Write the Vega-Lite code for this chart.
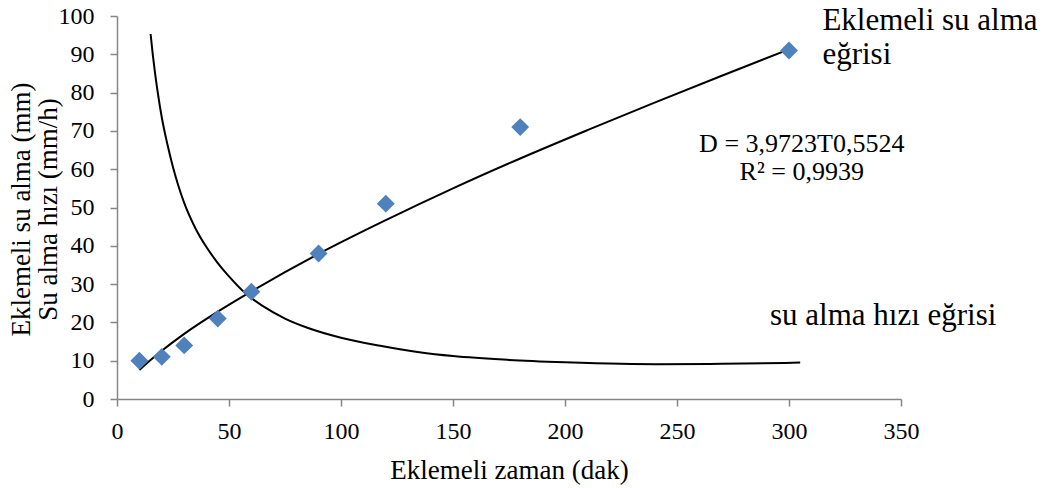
{
  "$schema": "https://vega.github.io/schema/vega-lite/v6.json",
  "width": 784,
  "height": 383,
  "autosize": {"type": "none"},
  "padding": {"left": 117, "top": 16, "right": 150, "bottom": 89},
  "background": "white",
  "config": {
    "view": {"stroke": null},
    "font": "Liberation Serif",
    "axis": {
      "grid": false,
      "domainColor": "#868686",
      "tickColor": "#868686",
      "domainWidth": 1.5,
      "tickWidth": 1.5,
      "tickSize": 7,
      "labelOverlap": false,
      "labelFlush": false,
      "labelFont": "Liberation Serif",
      "labelFontSize": 24,
      "labelColor": "#000000",
      "titleFont": "Liberation Serif",
      "titleFontSize": 27,
      "titleFontWeight": "normal",
      "titleColor": "#000000"
    }
  },
  "datasets": {
    "points": [
      {"t": 10, "v": 10},
      {"t": 20, "v": 11},
      {"t": 30, "v": 14},
      {"t": 45, "v": 21},
      {"t": 60, "v": 28},
      {"t": 90, "v": 38},
      {"t": 120, "v": 51},
      {"t": 180, "v": 71},
      {"t": 300, "v": 91}
    ],
    "trend": [
      {"t": 10, "v": 7.6},
      {"t": 15, "v": 10.2},
      {"t": 20, "v": 12.6},
      {"t": 30, "v": 17.0},
      {"t": 45, "v": 22.8},
      {"t": 60, "v": 28.1},
      {"t": 90, "v": 37.9},
      {"t": 120, "v": 46.7},
      {"t": 150, "v": 55.0},
      {"t": 180, "v": 62.8},
      {"t": 210, "v": 70.2},
      {"t": 240, "v": 77.4},
      {"t": 270, "v": 84.4},
      {"t": 300, "v": 91.3}
    ],
    "rate": [
      {"t": 15, "v": 95.3},
      {"t": 16, "v": 89.8},
      {"t": 17, "v": 85.0},
      {"t": 18, "v": 80.8},
      {"t": 20, "v": 73.5},
      {"t": 22.5, "v": 66.5},
      {"t": 25, "v": 60.5},
      {"t": 27.5, "v": 55.5},
      {"t": 30, "v": 51.2},
      {"t": 35, "v": 44.6},
      {"t": 40, "v": 39.6},
      {"t": 45, "v": 35.5},
      {"t": 50, "v": 32.0},
      {"t": 57.3, "v": 27.6},
      {"t": 65, "v": 24.3},
      {"t": 75, "v": 21.0},
      {"t": 85, "v": 18.6},
      {"t": 100, "v": 16.0},
      {"t": 117.5, "v": 13.9},
      {"t": 135, "v": 12.2},
      {"t": 150, "v": 11.2},
      {"t": 175, "v": 10.2},
      {"t": 200, "v": 9.6},
      {"t": 225, "v": 9.2},
      {"t": 241, "v": 9.1},
      {"t": 270, "v": 9.2},
      {"t": 305, "v": 9.5}
    ],
    "one": [{}]
  },
  "layer": [
    {
      "data": {"name": "rate"},
      "mark": {"type": "line", "color": "#000000", "strokeWidth": 2, "interpolate": "monotone"},
      "encoding": {
        "x": {
          "field": "t", "type": "quantitative",
          "scale": {"domain": [0, 350], "nice": false},
          "axis": {"values": [0, 50, 100, 150, 200, 250, 300, 350], "labelOverlap": false, "labelFlush": false, "labelPadding": 13, "title": "Eklemeli zaman (dak)", "titleY": 79, "titleBaseline": "alphabetic"}
        },
        "y": {
          "field": "v", "type": "quantitative",
          "scale": {"domain": [0, 100], "nice": false},
          "axis": {"values": [0, 10, 20, 30, 40, 50, 60, 70, 80, 90, 100], "tickCount": 11, "labelOverlap": false, "labelFlush": false, "labelPadding": 16, "title": ["Eklemeli su alma (mm)", "Su alma hızı (mm/h)"], "titleX": -88, "titleY": 193, "titleBaseline": "alphabetic", "titleLineHeight": 27}
        }
      }
    },
    {
      "data": {"name": "trend"},
      "mark": {"type": "line", "color": "#000000", "strokeWidth": 2, "interpolate": "monotone"},
      "encoding": {
        "x": {"field": "t", "type": "quantitative"},
        "y": {"field": "v", "type": "quantitative"}
      }
    },
    {
      "data": {"name": "points"},
      "mark": {"type": "point", "shape": "diamond", "filled": true, "color": "#4F81BD", "size": 320, "opacity": 1},
      "encoding": {
        "x": {"field": "t", "type": "quantitative"},
        "y": {"field": "v", "type": "quantitative"}
      }
    },
    {
      "data": {"name": "one"},
      "mark": {"type": "text", "text": "Eklemeli su alma", "align": "left", "baseline": "alphabetic", "fontSize": 31, "font": "Liberation Serif", "color": "#000000"},
      "encoding": {"x": {"datum": 314.9}, "y": {"datum": 96.3}}
    },
    {
      "data": {"name": "one"},
      "mark": {"type": "text", "text": "eğrisi", "align": "left", "baseline": "alphabetic", "fontSize": 31, "font": "Liberation Serif", "color": "#000000"},
      "encoding": {"x": {"datum": 314.9}, "y": {"datum": 87.5}}
    },
    {
      "data": {"name": "one"},
      "mark": {"type": "text", "text": "su alma hızı eğrisi", "align": "left", "baseline": "alphabetic", "fontSize": 31, "font": "Liberation Serif", "color": "#000000"},
      "encoding": {"x": {"datum": 291.5}, "y": {"datum": 19.3}}
    },
    {
      "data": {"name": "one"},
      "mark": {"type": "text", "text": "D = 3,9723T0,5524", "align": "center", "baseline": "alphabetic", "fontSize": 26, "font": "Liberation Serif", "color": "#000000"},
      "encoding": {"x": {"datum": 305.7}, "y": {"datum": 64.4}}
    },
    {
      "data": {"name": "one"},
      "mark": {"type": "text", "text": "R² = 0,9939", "align": "center", "baseline": "alphabetic", "fontSize": 26, "font": "Liberation Serif", "color": "#000000"},
      "encoding": {"x": {"datum": 305.7}, "y": {"datum": 57.1}}
    }
  ]
}
